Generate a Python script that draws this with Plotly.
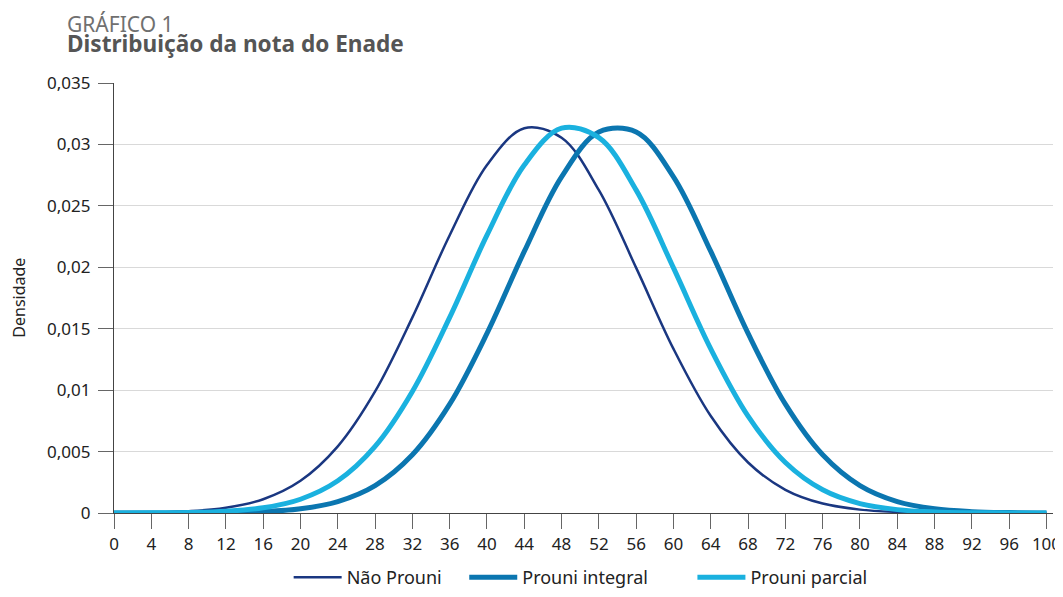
import plotly.graph_objects as go

# Nota do Enade (x) and density values
notas = [0, 4, 8, 12, 16, 20, 24, 28, 32, 36, 40, 44, 48, 52, 56, 60, 64, 68, 72, 76, 80, 84, 88, 92, 96, 100]

nao_prouni = [1.06e-5, 4.09e-5, 0.000140, 0.000421, 0.00112, 0.00262, 0.00542, 0.00989, 0.01592, 0.02261,
              0.02833, 0.03132, 0.03055, 0.02628, 0.01995, 0.01336, 0.00789, 0.00411, 0.00189, 0.000767,
              0.000275, 8.7e-5, 2.4e-5, 6e-6, 1.3e-6, 2.5e-7]

prouni_integral = [3.5e-7, 1.8e-6, 7.9e-6, 3.16e-5, 0.000110, 0.000341, 0.000928, 0.00223, 0.00474, 0.00886,
                   0.01462, 0.02129, 0.02736, 0.03101, 0.03101, 0.02736, 0.02129, 0.01462, 0.00886, 0.00474,
                   0.00223, 0.000928, 0.000341, 0.000110, 3.16e-5, 7.9e-6]

prouni_parcial = [2.4e-6, 1.06e-5, 4.09e-5, 0.000140, 0.000421, 0.00112, 0.00262, 0.00542, 0.00989, 0.01592,
                  0.02261, 0.02833, 0.03132, 0.03055, 0.02628, 0.01995, 0.01336, 0.00789, 0.00411, 0.00189,
                  0.000767, 0.000275, 8.7e-5, 2.4e-5, 6e-6, 1.3e-6]

series_names = ["Não Prouni", "Prouni integral", "Prouni parcial"]

y_tickvals = [0, 0.005, 0.01, 0.015, 0.02, 0.025, 0.03, 0.035]
y_ticktext = ["0", "0,005", "0,01", "0,015", "0,02", "0,025", "0,03", "0,035"]
x_tickvals = list(range(0, 101, 4))

FONT = "Noto Sans"

fig = go.Figure()
fig.add_trace(go.Scatter(x=notas, y=nao_prouni, name=series_names[0], mode="lines", legend="legend",
                         line=dict(color="#1a3781", width=2.5, shape="spline")))
fig.add_trace(go.Scatter(x=notas, y=prouni_integral, name=series_names[1], mode="lines", legend="legend2",
                         line=dict(color="#0b76b0", width=5, shape="spline")))
fig.add_trace(go.Scatter(x=notas, y=prouni_parcial, name=series_names[2], mode="lines", legend="legend3",
                         line=dict(color="#1ab1df", width=5, shape="spline")))

legend_common = dict(orientation="h", xanchor="left", y=-0.15, yanchor="middle",
                     font=dict(family=FONT, size=18, color="#222222"), itemwidth=48,
                     bgcolor="rgba(0,0,0,0)")

# page body has an 8px margin; figure sized so the page fits the 1063x597 window without scrolling
fig.update_layout(
    width=1055, height=581,
    margin=dict(l=106, r=10, t=75, b=76, autoexpand=False),
    paper_bgcolor="white", plot_bgcolor="white",
    font=dict(family=FONT, size=17, color="#222222"),
    showlegend=True,
    legend=dict(x=0.186, **legend_common),
    legend2=dict(x=0.373, **legend_common),
    legend3=dict(x=0.616, **legend_common),
    annotations=[
        dict(text="GRÁFICO 1", xref="paper", yref="paper", x=-0.052, y=1.138,
             xanchor="left", yanchor="middle", showarrow=False,
             font=dict(family=FONT, size=21, color="#707070")),
        dict(text="<b>Distribuição da nota do Enade</b>", xref="paper", yref="paper", x=-0.052, y=1.091,
             xanchor="left", yanchor="middle", showarrow=False,
             font=dict(family=FONT, size=22.6, color="#555555")),
        dict(text="Densidade", xref="paper", yref="paper", x=-0.1015, y=0.5, textangle=-90,
             xanchor="center", yanchor="middle", showarrow=False,
             font=dict(family=FONT, size=16, color="#222222")),
    ],
)

fig.update_xaxes(range=[0, 100.7], tickvals=x_tickvals, ticks="outside", ticklen=15,
                 tickcolor="#666666", tickwidth=1.3, showline=True, linecolor="#444444", linewidth=1.3,
                 showgrid=False, zeroline=False, automargin=False, ticklabeloverflow="allow",
                 tickfont=dict(size=17, color="#222222"))
fig.update_yaxes(range=[0, 0.035], tickvals=y_tickvals, ticktext=y_ticktext, ticks="outside", ticklen=15,
                 tickcolor="#666666", tickwidth=1.3, showline=True, linecolor="#444444", linewidth=1.3,
                 showgrid=True, gridcolor="#d9d9d9", gridwidth=1.3, zeroline=False, automargin=False,
                 ticklabelstandoff=4, ticklabeloverflow="allow", tickfont=dict(size=17, color="#222222"))

fig.write_html("out.html")
